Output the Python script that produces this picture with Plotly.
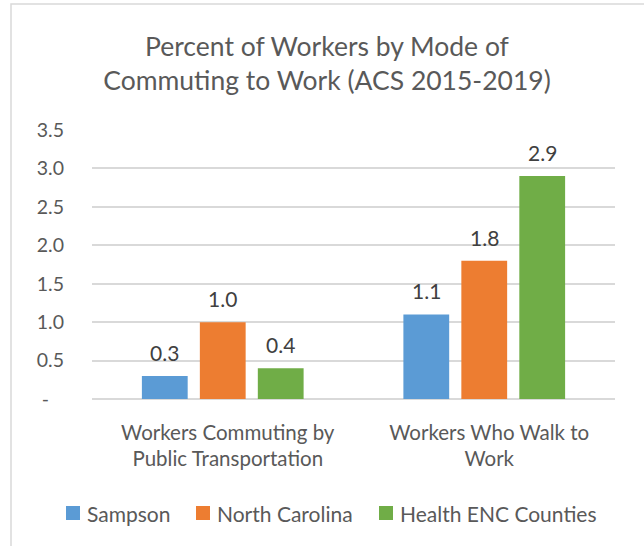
import plotly.graph_objects as go

# Commuting mode shares (percent of workers), ACS 2015-2019
categories = ["Workers Commuting by<br>Public Transportation", "Workers Who Walk to<br>Work"]
series_names = ["Sampson", "North Carolina", "Health ENC Counties"]
sampson = [0.3, 1.1]
north_carolina = [1.0, 1.8]
health_enc = [0.4, 2.9]
tick_vals = [0, 0.5, 1.0, 1.5, 2.0, 2.5, 3.0, 3.5]
tick_text = ["-\u00a0\u00a0\u00a0", "0.5", "1.0", "1.5", "2.0", "2.5", "3.0", "3.5"]

colors = ["#5B9BD5", "#ED7D31", "#70AD47"]
text_color = "#595959"
font_family = "Lato, 'Open Sans', sans-serif"

W, H = 644, 546
margin = dict(l=92, r=29, t=130, b=147)
bargap = 0.335
bargroupgap = 0.21

plot_w = W - margin["l"] - margin["r"]
plot_h = H - margin["t"] - margin["b"]


def px_x(px):
    """Pixel column -> paper x."""
    return (px - margin["l"]) / plot_w


def px_y(py):
    """Pixel row (from top) -> paper y."""
    return (H - margin["b"] - py) / plot_h


fig = go.Figure()
values = [sampson, north_carolina, health_enc]
for name, vals, col in zip(series_names, values, colors):
    fig.add_trace(go.Bar(name=name, x=categories, y=vals, marker_color=col,
                         marker_line_width=0, showlegend=False))

# value labels above each bar, offset to each bar's slot within the group
cat_w = plot_w / len(categories)
step = cat_w * (1 - bargap) / len(series_names)
for i, vals in enumerate(values):
    for cat, v in zip(categories, vals):
        fig.add_annotation(x=cat, y=v, xref="x", yref="y", text=f"{v:.1f}",
                           showarrow=False, yanchor="bottom", yshift=9,
                           xshift=(i - 1) * step,
                           font=dict(size=21, color="#404040", family=font_family))

# legend row: colour swatch + series name
legend_swatch_left = [66, 196, 379]
legend_cy = 513
swatch = 14
for name, col, left in zip(series_names, colors, legend_swatch_left):
    fig.add_shape(type="rect", xref="paper", yref="paper",
                  x0=px_x(left), x1=px_x(left + swatch),
                  y0=px_y(legend_cy + swatch / 2), y1=px_y(legend_cy - swatch / 2),
                  fillcolor=col, line_width=0)
    fig.add_annotation(x=px_x(left + swatch + 5), y=px_y(legend_cy), xref="paper", yref="paper",
                       text=name, showarrow=False, xanchor="left", yanchor="middle",
                       font=dict(size=21, color=text_color, family=font_family))

# outer chart border
fig.add_shape(type="rect", xref="paper", yref="paper",
              x0=px_x(11), x1=1.5, y0=-1.0, y1=px_y(4),
              line=dict(color="#D9D9D9", width=1.5), fillcolor="rgba(0,0,0,0)", layer="below")

fig.update_layout(
    width=W, height=H, margin=dict(margin, autoexpand=False),
    paper_bgcolor="white", plot_bgcolor="white", showlegend=False,
    barmode="group", bargap=bargap, bargroupgap=bargroupgap,
    font=dict(family=font_family, color=text_color, size=20),
    title=dict(text="Percent of Workers by Mode of<br>Commuting to Work (ACS 2015-2019)",
               x=327 / W, xanchor="center", xref="container",
               y=1 - 56 / H, yanchor="middle", yref="container",
               font=dict(size=26.5, color=text_color, family=font_family)),
    xaxis=dict(showgrid=False, showline=False, ticks="", ticklabelstandoff=19,
               ticklabelshift=5, automargin=False,
               tickfont=dict(size=20.5, color=text_color)),
    yaxis=dict(range=[0, 3.5], tickvals=tick_vals, ticktext=tick_text,
               showgrid=True, gridcolor="#D9D9D9", gridwidth=1.5,
               zeroline=True, zerolinecolor="#D9D9D9", zerolinewidth=1.5,
               showline=False, ticks="", ticklabelstandoff=27, automargin=False,
               tickfont=dict(size=19.5, color=text_color)),
)

fig.write_html("out.html")
